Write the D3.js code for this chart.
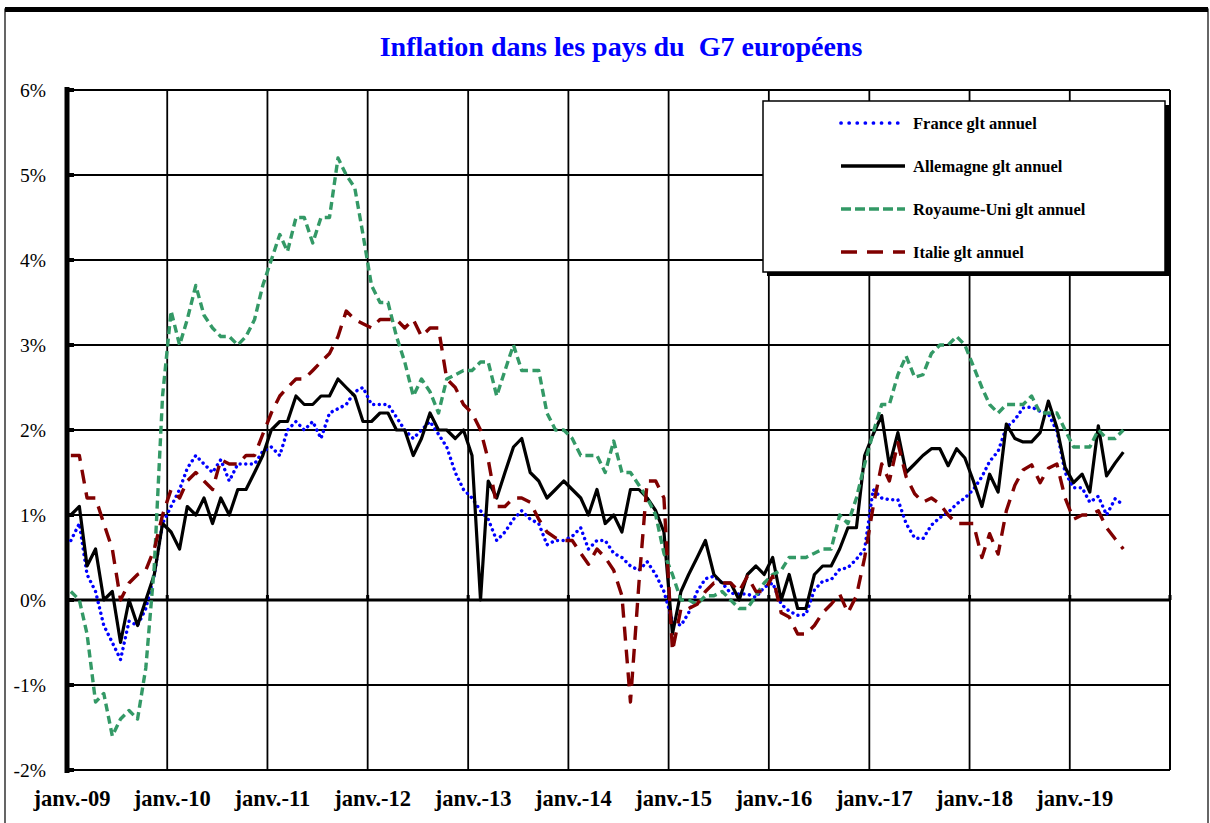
<!DOCTYPE html>
<html>
  <head>
    <meta charset="utf-8">
    <title>Inflation G7 européens</title>
    <script src="https://cdn.jsdelivr.net/npm/d3@7/dist/d3.min.js"></script>
    <style>
      body { margin: 0; background: #fff; }
      text { font-family: "Liberation Serif", "Times New Roman", serif; }
    </style>
  </head>
  <body>
    <div id="vis"></div>
    <script>
      // monthly values, janv. 2009 -> juil. 2019 (one row per year)
      var france = [
        0.7, 0.9, 0.3, 0.1, -0.3, -0.5, -0.7, -0.25, -0.3, -0.1, 0.3, 0.9,
        1.1, 1.3, 1.55, 1.7, 1.6, 1.5, 1.65, 1.4, 1.6, 1.6, 1.6, 1.75,
        1.8, 1.7, 2.0, 2.1, 2.0, 2.1, 1.9, 2.2, 2.25, 2.3, 2.45, 2.5,
        2.3, 2.3, 2.3, 2.15, 2.0, 1.9, 2.0, 2.1, 1.95, 1.8, 1.5, 1.3,
        1.2, 1.05, 0.95, 0.7, 0.8, 0.95, 1.05, 0.95, 0.9, 0.65, 0.7, 0.7,
        0.75, 0.85, 0.6, 0.7, 0.7, 0.55, 0.5, 0.4, 0.35, 0.45, 0.3, 0.1,
        -0.25, -0.3, -0.15, 0.1, 0.25, 0.28, 0.2, 0.08, 0.07, 0.07, 0.03, 0.15,
        0.2, -0.05, -0.13, -0.18, -0.17, 0.12, 0.22, 0.24, 0.36, 0.38, 0.48, 0.6,
        1.3, 1.2, 1.18, 1.18, 0.9, 0.73, 0.72, 0.88, 0.97, 1.03, 1.13, 1.2,
        1.3, 1.45, 1.63, 1.75, 2.03, 2.12, 2.26, 2.27, 2.22, 2.19, 1.99, 1.5,
        1.32, 1.32, 1.15, 1.22, 1.0, 1.19, 1.12
      ];
      var allemagne = [
        1.0, 1.1, 0.4, 0.6, 0.0, 0.1, -0.5, 0.0, -0.3, 0.0, 0.3, 0.9,
        0.8, 0.6, 1.1, 1.0, 1.2, 0.9, 1.2, 1.0, 1.3, 1.3, 1.5, 1.7,
        2.0, 2.1, 2.1, 2.4, 2.3, 2.3, 2.4, 2.4, 2.6, 2.5, 2.4, 2.1,
        2.1, 2.2, 2.2, 2.0, 2.0, 1.7, 1.9, 2.2, 2.0, 2.0, 1.9, 2.0,
        1.7, 0.0, 1.4, 1.2, 1.5, 1.8, 1.9, 1.5, 1.4, 1.2, 1.3, 1.4,
        1.3, 1.2, 1.0, 1.3, 0.9, 1.0, 0.8, 1.3, 1.3, 1.2, 1.05, 0.8,
        -0.4, 0.1, 0.3, 0.5, 0.7, 0.3, 0.2, 0.2, 0.0, 0.3, 0.4, 0.3,
        0.5, 0.0, 0.3, -0.1, -0.1, 0.3, 0.4, 0.4, 0.6, 0.85, 0.85, 1.7,
        1.95, 2.17, 1.58, 1.97, 1.5, 1.6, 1.7, 1.78, 1.78, 1.58, 1.78, 1.67,
        1.4, 1.1, 1.48, 1.27, 2.07, 1.9, 1.86, 1.86, 1.97, 2.34, 2.03, 1.56,
        1.38, 1.48, 1.27, 2.05, 1.46, 1.61, 1.74
      ];
      var royaumeUni = [
        0.1, 0.0, -0.4, -1.2, -1.1, -1.6, -1.4, -1.3, -1.4, -0.8, 0.4, 2.4,
        3.4, 3.0, 3.3, 3.7, 3.35, 3.2, 3.1, 3.1, 3.0, 3.1, 3.3, 3.7,
        4.0, 4.3, 4.1, 4.5, 4.5, 4.2, 4.5, 4.5, 5.2, 5.0, 4.85, 4.3,
        3.7, 3.5, 3.5, 3.1, 2.8, 2.4, 2.6, 2.45, 2.2, 2.6, 2.65, 2.7,
        2.7, 2.8, 2.8, 2.4, 2.7, 3.0, 2.7, 2.7, 2.7, 2.2, 2.0, 2.0,
        1.9, 1.7, 1.7, 1.7, 1.5, 1.87, 1.5, 1.5, 1.35, 1.2, 1.0, 0.55,
        0.3, 0.0, 0.0, -0.05, 0.05, 0.05, 0.1, 0.0, -0.1, -0.1, 0.05, 0.2,
        0.3, 0.35, 0.5, 0.5, 0.5, 0.55, 0.6, 0.6, 1.0, 0.9, 1.2, 1.6,
        1.97, 2.3, 2.3, 2.65, 2.87, 2.62, 2.65, 2.9, 3.0, 3.0, 3.1, 3.0,
        2.75, 2.5, 2.3, 2.2, 2.3, 2.3, 2.3, 2.4, 2.2, 2.2, 2.2, 2.0,
        1.8, 1.8, 1.8, 2.0, 1.9, 1.9, 2.0
      ];
      var italie = [
        1.7, 1.7, 1.2, 1.2, 0.9, 0.6, 0.0, 0.2, 0.3, 0.35, 0.6, 1.0,
        1.3, 1.2, 1.4, 1.5, 1.4, 1.3, 1.65, 1.6, 1.6, 1.7, 1.7, 1.95,
        2.2, 2.4, 2.5, 2.6, 2.6, 2.7, 2.8, 2.9, 3.1, 3.4, 3.3, 3.25,
        3.2, 3.3, 3.3, 3.3, 3.2, 3.3, 3.1, 3.2, 3.2, 2.6, 2.5, 2.3,
        2.2, 2.0, 1.65, 1.1, 1.1, 1.2, 1.2, 1.15, 0.95, 0.8, 0.73, 0.7,
        0.7, 0.55, 0.42, 0.6, 0.5, 0.35, 0.05, -1.2, 0.2, 1.4, 1.4, 1.2,
        -0.6, -0.1, -0.1, -0.05, 0.1, 0.2, 0.2, 0.2, 0.1, 0.28, 0.1, 0.1,
        0.28, -0.15, -0.2, -0.4, -0.4, -0.3, -0.15, -0.05, 0.07, -0.15, 0.05, 0.5,
        1.1, 1.6, 1.4, 1.85, 1.45, 1.25, 1.15, 1.2, 1.13, 1.0, 0.9, 0.9,
        0.9, 0.5, 0.78, 0.54, 1.05, 1.35, 1.53, 1.59, 1.38, 1.55, 1.6, 1.2,
        0.95, 1.0, 1.0, 1.05, 0.85, 0.72, 0.6
      ];
      var months = d3.timeMonth.range(new Date(2009, 0, 1), new Date(2019, 7, 1));
      var yTicks = [-2, -1, 0, 1, 2, 3, 4, 5, 6];
      var xTicks = d3.timeYear.range(new Date(2009, 0, 1), new Date(2020, 0, 2));

      var series = [
        { name: 'France glt annuel', values: france, color: '#0000ff', dash: '0.1 5.5', legDash: '0.1 8', cap: 'round', width: 3.4 },
        { name: 'Allemagne glt annuel', values: allemagne, color: '#000000', dash: null, legDash: null, cap: 'butt', width: 3.2 },
        { name: 'Royaume-Uni glt annuel', values: royaumeUni, color: '#339966', dash: '8 4.5', legDash: '10 4', cap: 'butt', width: 3.4 },
        { name: 'Italie glt annuel', values: italie, color: '#800000', dash: '14 9', legDash: '16 10', cap: 'butt', width: 3.4 }
      ];

      var W = 1210, H = 823;
      var pLeft = 67, pRight = 1170, pTop = 90, pBottom = 770;

      var x = d3.scaleTime().domain([new Date(2009, 0, 1), new Date(2020, 0, 1)]).range([pLeft, pRight]);
      var y = d3.scaleLinear().domain([-2, 6]).range([pBottom, pTop]);

      var svg = d3.select('#vis').append('svg')
        .attr('width', W).attr('height', H);

      // outer frame
      svg.append('rect').attr('x', 5).attr('y', 9).attr('width', 1203).attr('height', H + 10)
        .attr('fill', 'white').attr('stroke', 'black').attr('stroke-width', 1.2);
      svg.append('rect').attr('x', 5).attr('y', 7).attr('width', 1203).attr('height', 5).attr('fill', 'black');

      svg.append('text')
        .attr('x', 621).attr('y', 56)
        .attr('text-anchor', 'middle')
        .attr('fill', '#0000ff')
        .attr('font-size', 28).attr('font-weight', 'bold')
        .style('white-space', 'pre')
        .text('Inflation dans les pays du  G7 européens');

      // grid
      svg.selectAll('line.hgrid').data(yTicks).enter().append('line')
        .attr('class', 'hgrid')
        .attr('x1', pLeft).attr('x2', pRight)
        .attr('y1', function (d) { return y(d); }).attr('y2', function (d) { return y(d); })
        .attr('stroke', 'black')
        .attr('stroke-width', function (d) { return d === 0 ? 3 : 1.8; });

      svg.selectAll('line.vgrid').data(xTicks.slice(1)).enter().append('line')
        .attr('class', 'vgrid')
        .attr('x1', function (d) { return x(d); }).attr('x2', function (d) { return x(d); })
        .attr('y1', pTop).attr('y2', pBottom)
        .attr('stroke', 'black').attr('stroke-width', 1.8);

      // small ticks on the zero line
      svg.selectAll('line.xtick').data(xTicks).enter().append('line')
        .attr('class', 'xtick')
        .attr('x1', function (d) { return x(d); }).attr('x2', function (d) { return x(d); })
        .attr('y1', y(0) - 5).attr('y2', y(0))
        .attr('stroke', 'black').attr('stroke-width', 3);

      // y axis
      svg.append('line').attr('x1', pLeft).attr('x2', pLeft).attr('y1', pTop - 3).attr('y2', pBottom + 3)
        .attr('stroke', 'black').attr('stroke-width', 5);
      svg.selectAll('line.ytick').data(yTicks).enter().append('line')
        .attr('class', 'ytick')
        .attr('x1', pLeft).attr('x2', pLeft + 7)
        .attr('y1', function (d) { return y(d); }).attr('y2', function (d) { return y(d); })
        .attr('stroke', 'black').attr('stroke-width', 4);

      svg.selectAll('text.ylab').data(yTicks).enter().append('text')
        .attr('class', 'ylab')
        .attr('x', 46).attr('y', function (d) { return y(d) + 7; })
        .attr('text-anchor', 'end').attr('font-size', 19.5)
        .text(function (d) { return d + '%'; });

      svg.selectAll('text.xlab').data(xTicks.slice(0, 11)).enter().append('text')
        .attr('class', 'xlab')
        .attr('x', function (d) { return x(d) + 5; }).attr('y', 806)
        .attr('text-anchor', 'middle').attr('font-size', 22.5).attr('font-weight', 'bold')
        .text(function (d) { return 'janv.-' + d3.timeFormat('%y')(d); });

      // lines
      var line = d3.line()
        .x(function (d, i) { return x(d3.timeDay.offset(months[i], 14)); })
        .y(function (d) { return y(d); });

      svg.selectAll('path.serie').data(series).enter().append('path')
        .attr('class', 'serie')
        .attr('d', function (d) { return line(d.values); })
        .attr('fill', 'none')
        .attr('stroke', function (d) { return d.color; })
        .attr('stroke-width', function (d) { return d.width; })
        .attr('stroke-dasharray', function (d) { return d.dash; })
        .attr('stroke-linecap', function (d) { return d.cap; })
        .attr('stroke-linejoin', 'round');

      // legend
      var lx = 763, ly = 101, lw = 402, lh = 171;
      svg.append('rect').attr('x', lx + 4).attr('y', ly + 4).attr('width', lw).attr('height', lh).attr('fill', 'black');
      svg.append('rect').attr('x', lx).attr('y', ly).attr('width', lw).attr('height', lh)
        .attr('fill', 'white').attr('stroke', 'black').attr('stroke-width', 1.5);

      var items = svg.selectAll('g.leg').data(series).enter().append('g')
        .attr('class', 'leg')
        .attr('transform', function (d, i) { return 'translate(0,' + (123 + i * 43) + ')'; });
      items.append('line')
        .attr('x1', 841).attr('x2', 905).attr('y1', 0).attr('y2', 0)
        .attr('stroke', function (d) { return d.color; })
        .attr('stroke-width', function (d) { return d.width + 0.3; })
        .attr('stroke-dasharray', function (d) { return d.legDash; })
        .attr('stroke-linecap', function (d) { return d.cap; });
      items.append('text')
        .attr('x', 913).attr('y', 6)
        .attr('font-size', 16.5).attr('font-weight', 'bold')
        .text(function (d) { return d.name; });

      // plot border on top of everything
      svg.append('line').attr('x1', pLeft).attr('x2', pRight).attr('y1', pTop).attr('y2', pTop)
        .attr('stroke', 'black').attr('stroke-width', 2);
      svg.append('line').attr('x1', pRight).attr('x2', pRight).attr('y1', pTop).attr('y2', pBottom)
        .attr('stroke', 'black').attr('stroke-width', 2);
    </script>
  </body>
</html>
